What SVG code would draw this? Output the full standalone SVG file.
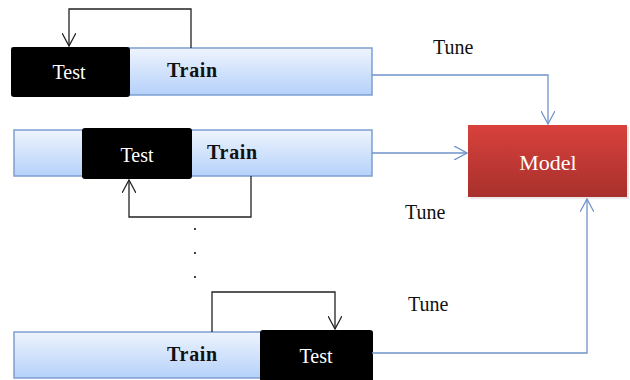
<svg xmlns="http://www.w3.org/2000/svg" width="630" height="380" viewBox="0 0 630 380">
  <defs>
    <linearGradient id="barFill" x1="0" y1="0" x2="0" y2="1">
      <stop offset="0" stop-color="#eef4fd"/>
      <stop offset="1" stop-color="#b5d1fa"/>
    </linearGradient>
    <linearGradient id="modelFill" x1="0" y1="0" x2="0" y2="1">
      <stop offset="0" stop-color="#d8413c"/>
      <stop offset="1" stop-color="#a8302c"/>
    </linearGradient>
    <marker id="openBlack" viewBox="0 0 14 14" refX="13" refY="7" markerWidth="14" markerHeight="14" markerUnits="userSpaceOnUse" orient="auto">
      <path d="M0,0 L13,7 L0,14" fill="none" stroke="#222" stroke-width="1.3"/>
    </marker>
    <marker id="openBlue" viewBox="0 0 14 14" refX="13" refY="7" markerWidth="14" markerHeight="14" markerUnits="userSpaceOnUse" orient="auto">
      <path d="M0,0 L13,7 L0,14" fill="none" stroke="#6f93c9" stroke-width="1.3"/>
    </marker>
  </defs>
  <style>
    .bar { fill: url(#barFill); stroke: #7d9fd0; stroke-width: 1.5; }
    .test { fill: #000; }
    .testText { font-family: "Liberation Serif", serif; font-size: 20px; fill: #fff; text-anchor: middle; }
    .trainText { font-family: "Liberation Serif", serif; font-size: 20px; font-weight: bold; fill: #111; letter-spacing: 0.7px; }
    .tune { font-family: "Liberation Serif", serif; font-size: 20px; fill: #111; }
    .loop { fill: none; stroke: #222; stroke-width: 1.3; marker-end: url(#openBlack); }
    .link { fill: none; stroke: #6f93c9; stroke-width: 1.3; marker-end: url(#openBlue); }
    .dot { fill: #444; }
  </style>

  <rect width="630" height="380" fill="#fff"/>

  <!-- fold 1: test block at the start -->
  <g id="fold1">
    <rect class="bar" x="12" y="48" width="360" height="47"/>
    <rect class="test" x="11" y="47" width="119" height="50" rx="3"/>
    <text class="testText" x="69" y="79">Test</text>
    <text class="trainText" x="167" y="77">Train</text>
  </g>

  <!-- fold 2: test block in the middle -->
  <g id="fold2">
    <rect class="bar" x="14" y="130" width="358" height="46"/>
    <rect class="test" x="82" y="128" width="110" height="51" rx="3"/>
    <text class="testText" x="137" y="162">Test</text>
    <text class="trainText" x="207" y="159">Train</text>
  </g>

  <!-- fold k: test block at the end -->
  <g id="foldk">
    <rect class="bar" x="14" y="332" width="358" height="46"/>
    <rect class="test" x="260" y="330" width="113" height="54" rx="3"/>
    <text class="testText" x="316" y="363">Test</text>
    <text class="trainText" x="167" y="361">Train</text>
  </g>

  <!-- model -->
  <g id="model">
    <rect x="470" y="127" width="159" height="72" fill="#d9d9d9" opacity="0.6"/>
    <rect x="468" y="125" width="159" height="72" fill="url(#modelFill)"/>
    <text x="548" y="170" font-family="Liberation Serif, serif" font-size="22" fill="#fff" text-anchor="middle">Model</text>
  </g>

  <!-- ellipsis between folds -->
  <g id="ellipsis">
    <rect class="dot" x="194" y="228" width="2" height="2"/>
    <rect class="dot" x="194" y="252" width="2" height="2"/>
    <rect class="dot" x="194" y="276" width="2" height="2"/>
  </g>

  <!-- labels -->
  <g id="labels">
    <text class="tune" x="433" y="54">Tune</text>
    <text class="tune" x="405" y="219">Tune</text>
    <text class="tune" x="408" y="311">Tune</text>
  </g>

  <!-- connectors -->
  <g id="connectors">
    <path class="loop" d="M191,48 V9 H69 V46"/>
    <path class="loop" d="M251,176 V217 H129 V180"/>
    <path class="loop" d="M212,332 V292 H335 V329"/>
    <path class="link" d="M372,75 H548 V124"/>
    <path class="link" d="M372,153 H467"/>
    <path class="link" d="M372,353 H587 V199"/>
  </g>
</svg>
